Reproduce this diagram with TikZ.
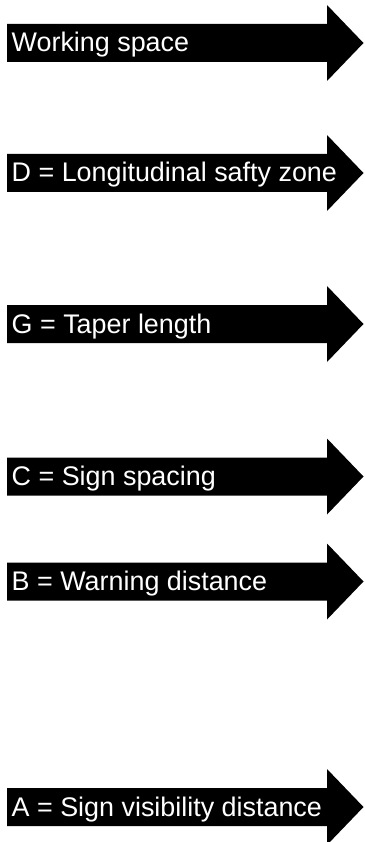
\documentclass[tikz,border=0pt]{standalone}
\usepackage{fontspec}
\setmainfont{Liberation Sans}
\usetikzlibrary{calc}

\begin{document}
\begin{tikzpicture}[x=1pt,y=-1pt,zonelabel/.style={anchor=base west,inner sep=0pt,text=white,font=\fontsize{26.9}{32}\selectfont}]
\useasboundingbox (0,0) rectangle (364,842);
\foreach \yc/\txt [count=\k] in {43/Working space,173/D = Longitudinal safty zone,324/G = Taper length,476.5/C = Sign spacing,581.5/B = Warning distance,807/A = Sign visibility distance}{\fill (7,\yc-19) -- (327,\yc-19) -- (327,\yc-38) -- (363.5,\yc) -- (327,\yc+38) -- (327,\yc+19) -- (7,\yc+19) -- cycle;\node[zonelabel] (zone\k) at (11.5,\yc+9) {\txt};}
\end{tikzpicture}
\end{document}
